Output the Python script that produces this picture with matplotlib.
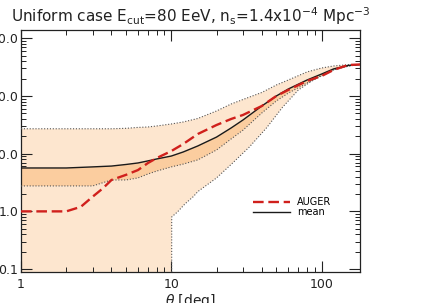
import numpy as np
import matplotlib
matplotlib.use("Agg")
import matplotlib.pyplot as plt
from matplotlib.ticker import LogLocator, FixedLocator, FuncFormatter, NullFormatter

# ---- data ----
theta = [1, 2, 3, 4, 5, 6, 7, 8, 10, 12, 15, 20, 25, 30, 40, 50, 60, 80, 100, 120, 150, 180]

auger_theta = [1, 2, 2.5, 3, 3.5, 4, 5, 6, 7, 8, 10, 12, 15, 20, 25, 30, 40, 50, 60, 80, 100, 120, 150, 180]
auger = [1.0, 1.0, 1.2, 1.8, 2.5, 3.5, 4.3, 5.2, 6.9, 8.4, 11.1, 14.7, 21.9, 31.4, 39.9, 46.9,
         67, 100, 127, 182, 222, 282, 344, 351]

mean = [5.65, 5.65, 5.9, 6.1, 6.5, 6.9, 7.5, 8.1, 9.1, 10.7, 13.6, 19.4, 27.9, 38.4,
        67, 100, 132, 189, 240, 294, 338, 351]

outer_hi = [27, 27, 27, 27, 27.5, 28.5, 29, 30.2, 32.7, 35.4, 40.7, 55, 72.6, 86.9,
            115, 155, 189, 261, 305, 331, 348, 351]

inner_lo = [2.76, 2.76, 2.76, 3.5, 3.5, 3.8, 4.45, 5.0, 5.9, 6.6, 7.8, 11.6, 18, 25.6,
            50.7, 82, 112, 168, 222, 282, 331, 351]

lower_theta = [1, 10.05, 10.06, 11, 12.3, 14, 15, 20, 25.6, 33, 43, 55, 70, 92, 118, 153, 180]
outer_lo = [0, 0, 0.8, 0.98, 1.34, 1.8, 2.2, 3.8, 6.9, 13, 28, 64, 127, 204, 282, 331, 351]

title = r"Uniform case E$_{\rm cut}$=80 EeV, n$_{\rm s}$=1.4x10$^{-4}$ Mpc$^{-3}$"
xlabel = r"$\theta$ [deg]"
x_ticks = [1, 10, 100]
y_ticks = [0.1, 1, 10, 100, 1000]

# ---- figure ----
fig = plt.figure(figsize=(4.24, 3.03), dpi=100)
ax = fig.add_axes([21 / 424, 31 / 303, 339 / 424, 242 / 303])
ax.set_xscale("log")
ax.set_yscale("log")
ax.set_xlim(1, 180)
ax.set_ylim(0.089, 1390)

# interpolate the lower outer edge onto the common grid for filling
lt = np.array(lower_theta)
lo_vals = np.clip(np.array(outer_lo, dtype=float), 1e-3, None)
fill_x = np.unique(np.concatenate([theta, lt]))
hi_on = np.interp(np.log(fill_x), np.log(theta), np.log(outer_hi))
lo_on = np.interp(np.log(fill_x), np.log(lt), np.log(lo_vals))
ax.fill_between(fill_x, np.exp(lo_on), np.exp(hi_on), facecolor="#fde6cf",
                edgecolor="none", zorder=1)
ax.fill_between(theta, inner_lo, mean, facecolor="#fbcd9f", edgecolor="none", zorder=2)

dot = dict(color="#555555", lw=0.8, linestyle=(0, (1, 1.6)), zorder=3)
ax.plot(theta, outer_hi, **dot)
ax.plot(lt, lo_vals, **dot)
ax.plot(theta, inner_lo, **dot)

ax.plot(theta, mean, color="#1a1a1a", lw=1.0, zorder=4, label="mean")
ax.plot(auger_theta, auger, color="#d0201c", lw=1.7, dashes=(4.5, 2.0), zorder=5, label="AUGER")

# ---- axes styling ----
for s in ax.spines.values():
    s.set_linewidth(0.9)
    s.set_color("#222222")

ax.xaxis.set_major_locator(FixedLocator(x_ticks))
ax.xaxis.set_minor_locator(LogLocator(base=10, subs=np.arange(2, 10), numticks=20))
ax.yaxis.set_major_locator(FixedLocator(y_ticks))
ax.yaxis.set_minor_locator(LogLocator(base=10, subs=np.arange(2, 10), numticks=20))
ax.xaxis.set_major_formatter(FuncFormatter(lambda v, p: f"{v:g}"))
ax.yaxis.set_major_formatter(FuncFormatter(lambda v, p: f"{v:.1f}"))
ax.xaxis.set_minor_formatter(NullFormatter())
ax.yaxis.set_minor_formatter(NullFormatter())
ax.tick_params(which="both", direction="in", top=True, right=True, colors="#222222",
               labelsize=9)
ax.tick_params(which="major", length=8, width=0.8, pad=4)
ax.tick_params(which="minor", length=3.6, width=0.7)
ax.tick_params(axis="y", which="major", pad=2)

ax.set_title(title, fontsize=11, pad=6, color="#222222")
ax.set_xlabel(xlabel, fontsize=10, labelpad=1, color="#222222")

h, l = ax.get_legend_handles_labels()
order = [l.index("AUGER"), l.index("mean")]
ax.legend([h[i] for i in order], [l[i] for i in order], loc="upper left",
          bbox_to_anchor=(0.684, 0.31), frameon=False, fontsize=7,
          handlelength=3.8, handletextpad=0.7, labelspacing=0.0,
          borderpad=0, borderaxespad=0)

fig.savefig("out.png", dpi=100)
